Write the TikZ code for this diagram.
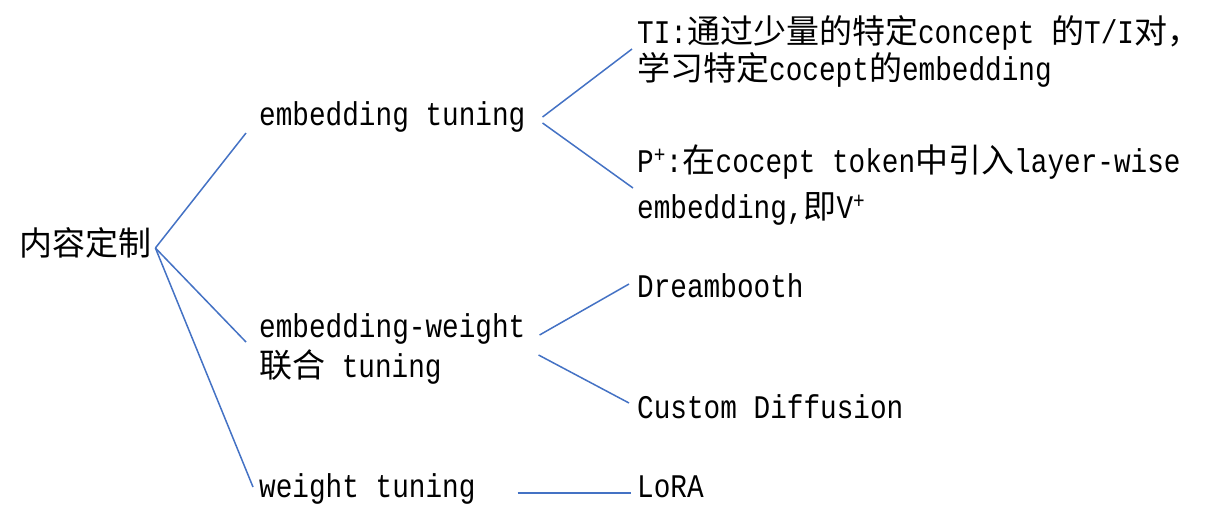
\documentclass[tikz,border=0pt]{standalone}
\usepackage{fontspec}
\setmainfont[FakeStretch=0.84]{Liberation Mono}
\newfontfamily\cjk{Noto Sans CJK SC}
\newcommand{\zh}[1]{{\cjk #1}}
\definecolor{linkblue}{HTML}{4472C4}

\tikzset{
  item/.style={anchor=base west, inner sep=0pt, font=\fontsize{33}{40}\selectfont},
  link/.style={draw=linkblue, line width=1.5pt},
}

\begin{document}
\begin{tikzpicture}[x=1pt, y=-1pt]
    \useasboundingbox (0,0) rectangle (1207,515);

    % root and second level
    \node[item] (root) at (19,255) {\zh{内容定制}};
    \node[item] (emb)  at (259,125) {embedding tuning};
    \node[item] (ew1)  at (259,337) {embedding-weight};
    \node[item] (ew2)  at (259,377) {\zh{联合} tuning};
    \node[item] (wt)   at (259,497) {weight tuning};

    % leaves
    \node[item] (ti1)    at (637,43)  {TI:\zh{通过少量的特定}concept \zh{的}T/I\zh{对，}};
    \node[item] (ti2)    at (637,80)  {\zh{学习特定}cocept\zh{的}embedding};
    \node[item] (pp1)    at (637,172) {P\textsuperscript{+}:\zh{在}cocept token\zh{中引入}layer-wise};
    \node[item] (pp2)    at (637,218) {embedding,\zh{即}V\textsuperscript{+}};
    \node[item] (dream)  at (637,297) {Dreambooth};
    \node[item] (custom) at (637,418) {Custom Diffusion};
    \node[item] (lora)   at (637,497) {LoRA};

    % connectors
    \coordinate (rootR) at ([xshift=4pt,yshift=7pt]root.base east);
    \draw[link] (rootR) -- ([xshift=-13pt,yshift=-8pt]emb.base west);
    \draw[link] (rootR) -- ([xshift=-13pt,yshift=-5pt]ew1.base west);
    \draw[link] (rootR) -- ([xshift=-6pt,yshift=10pt]wt.base west);

    \draw[link] ([xshift=17pt,yshift=8pt]emb.base east) -- ([xshift=-5pt,yshift=-6pt]ti1.base west);
    \draw[link] ([xshift=17pt,yshift=2pt]emb.base east) -- ([xshift=-4pt,yshift=-16pt]pp1.base west);

    \draw[link] ([xshift=14pt,yshift=2pt]ew1.base east) -- ([xshift=-8pt,yshift=13pt]dream.base west);
    \draw[link] ([xshift=13pt,yshift=-18pt]ew1.base east) -- ([xshift=-8pt,yshift=15pt]custom.base west);

    \draw[link] ([xshift=42pt,yshift=4pt]wt.base east) -- ([xshift=-6pt,yshift=4pt]lora.base west);
\end{tikzpicture}
\end{document}
